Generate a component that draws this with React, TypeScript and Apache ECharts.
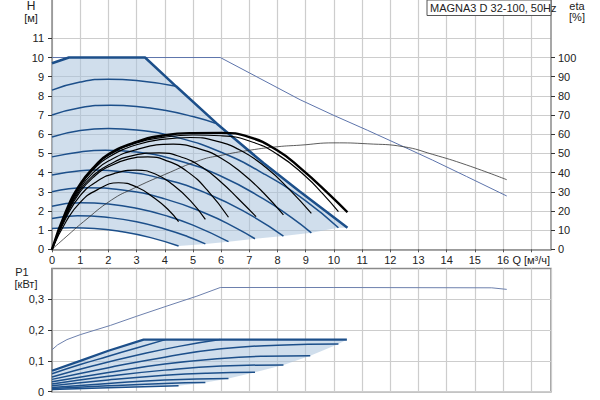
import React, { useEffect, useRef } from 'react';
import * as echarts from 'echarts';

type Pt = [number, number];

// ---------- Upper chart: head H [m] vs Q [m3/h] ----------
const Q_LABELS = [0, 1, 2, 3, 4, 5, 6, 7, 8, 9, 10, 11, 12, 13, 14, 15, 16, 17];
const H_LABELS = [0, 1, 2, 3, 4, 5, 6, 7, 8, 9, 10, 11];
const ETA_LABELS = [0, 10, 20, 30, 40, 50, 60, 70, 80, 90, 100];
const P_LABELS = [0, 0.1, 0.2, 0.3];

const H_MAX: Pt[] = [[0, 9.7], [0.6, 10], [3.3, 10], [4.4, 8.5], [5.85, 6.55], [6.32, 5.96], [7.5, 4.5], [8.8, 3.0], [9.7, 2.0], [10.48, 1.12]];
const H_C2: Pt[] = [[0, 8.3], [1, 8.72], [2, 8.87], [3, 8.8], [4.4, 8.5]];
const H_C3: Pt[] = [[0, 7.0], [1, 7.38], [2.07, 7.51], [3, 7.45], [4, 7.25], [5, 6.92], [5.85, 6.55]];
const H_C4: Pt[] = [[0, 5.86], [1, 6.2], [2, 6.3], [3, 6.22], [4.5, 5.81], [6, 5.06], [7.5, 3.95], [9, 2.53], [10.16, 1.12]];
const H_C5: Pt[] = [[0, 4.82], [1, 5.08], [1.9, 5.17], [3, 5.07], [4.5, 4.62], [6, 3.81], [7.5, 2.63], [8.5, 1.65], [9.2, 0.86]];
const H_C6: Pt[] = [[0, 3.87], [1, 4.09], [1.5, 4.13], [2.5, 4.05], [4, 3.65], [5.5, 2.91], [7, 1.82], [8.21, 0.69]];
const H_C7: Pt[] = [[0, 3.0], [1.2, 3.21], [2.5, 3.09], [4, 2.63], [5.5, 1.84], [6.5, 1.13], [7.2, 0.55]];
const H_C8: Pt[] = [[0, 2.25], [1, 2.43], [2, 2.36], [3, 2.14], [4, 1.77], [5, 1.26], [6.26, 0.4]];
const H_C9: Pt[] = [[0, 1.61], [0.9, 1.75], [2, 1.66], [3, 1.44], [4, 1.06], [4.8, 0.67], [5.44, 0.28]];
const H_C10: Pt[] = [[0, 1.09], [0.7, 1.13], [1.5, 1.09], [2.5, 0.91], [3.5, 0.61], [4.49, 0.17]];
const H_ENDS: Pt[] = [[10.16, 1.12], [9.2, 0.86], [8.21, 0.69], [7.2, 0.55], [6.26, 0.4], [5.44, 0.28]];
const H_TWIN: Pt[] = [[0, 10], [5.97, 10], [7, 9.2], [8.8, 7.8], [10, 6.98], [11.2, 6.2], [12.47, 5.35], [13.5, 4.65], [14.7, 3.8], [16.13, 2.78]];

// efficiency curves, eta [%]
const E_MAX: Pt[] = [[0, 0], [0.5, 20], [1, 34], [1.5, 43], [2, 49.5], [3, 56], [4, 59.5], [5, 60.6], [6, 60.7], [7, 58.5], [8, 51.5], [8.8, 42.5], [9.86, 28.3], [10.48, 19.3]];
const E_4: Pt[] = [[0, 0], [0.5, 19.5], [1, 33.5], [1.5, 42.5], [2, 49], [3, 55.5], [4, 58.5], [5, 59.6], [6, 59.2], [7, 56.5], [8, 49.5], [9, 38], [9.6, 29], [10.16, 19.6]];
const E_5: Pt[] = [[0, 0], [0.5, 19], [1, 33], [1.5, 42], [2, 48], [3, 54.5], [4, 57.5], [4.9, 58.3], [5.8, 56.5], [6.7, 51.5], [7.6, 42.5], [8.4, 31.5], [9.2, 18.7]];
const E_6: Pt[] = [[0, 0], [0.5, 18.5], [1, 32], [1.5, 40.5], [2, 46], [3, 52], [4.3, 54.8], [5.2, 52.5], [6, 47.5], [6.8, 39], [7.5, 29.5], [8.21, 17.9]];
const E_7: Pt[] = [[0, 0], [0.5, 18], [1, 31], [1.5, 39], [2, 44], [2.9, 49], [3.8, 50.3], [4.6, 48], [5.3, 43], [6, 35], [6.6, 26.5], [7.24, 17]];
const E_8: Pt[] = [[0, 0], [0.5, 17.5], [1, 30], [1.5, 38], [2, 43], [2.7, 47], [3.4, 48.2], [4.1, 46], [4.8, 40.5], [5.5, 31], [6.26, 16.7]];
const E_9: Pt[] = [[0, 0], [0.5, 16.5], [1, 28], [1.6, 35.5], [2.2, 39.5], [3.0, 41.3], [3.7, 39], [4.3, 33.5], [4.9, 25.5], [5.44, 15.6]];
const E_10: Pt[] = [[0, 0], [0.5, 14.5], [1, 24.5], [1.6, 31], [2.36, 34.7], [3.0, 32.5], [3.6, 27], [4.1, 21], [4.49, 14.4]];
const E_TWIN: Pt[] = [[0, 0], [0.5, 6.5], [1.12, 14.4], [2.11, 25.7], [2.9, 31.8], [4, 39], [5.26, 46.5], [6, 49], [7.03, 51.7], [8, 53.5], [8.8, 54.3], [10, 55.5], [11.2, 55], [12.47, 53.5], [13.5, 49.5], [14.7, 44], [16.13, 36.3]];

// ---------- Lower chart: power P1 [kW] ----------
const P_MAX: Pt[] = [[0, 0.068], [1, 0.1], [2, 0.133], [3.25, 0.169], [10.46, 0.169]];
const P_C2: Pt[] = [[0, 0.058], [1, 0.088], [2, 0.115], [3, 0.142], [4.02, 0.169]];
const P_C3: Pt[] = [[0, 0.048], [1.5, 0.085], [3, 0.118], [4.5, 0.147], [5.97, 0.169]];
const P_C4: Pt[] = [[0, 0.04], [2, 0.078], [4, 0.112], [6, 0.139], [8, 0.151], [10.16, 0.155]];
const P_C5: Pt[] = [[0, 0.032], [2, 0.062], [4, 0.09], [6, 0.108], [7.5, 0.115], [9.16, 0.117]];
const P_C6: Pt[] = [[0, 0.025], [2, 0.05], [4, 0.07], [6, 0.083], [8.21, 0.087]];
const P_C7: Pt[] = [[0, 0.019], [2, 0.038], [4, 0.053], [5.5, 0.06], [7.2, 0.063]];
const P_C8: Pt[] = [[0, 0.014], [2, 0.027], [4, 0.038], [6.26, 0.043]];
const P_C9: Pt[] = [[0, 0.01], [2, 0.019], [4, 0.027], [5.44, 0.03]];
const P_C10: Pt[] = [[0, 0.007], [2, 0.013], [4.49, 0.019]];
const P_ENDS: Pt[] = [[10.16, 0.155], [9.16, 0.117], [8.21, 0.087], [7.2, 0.063], [6.26, 0.043], [5.44, 0.03]];
const P_TWIN: Pt[] = [[0, 0.136], [0.2, 0.152], [0.53, 0.169], [1, 0.185], [2.07, 0.215], [3.01, 0.245], [4.08, 0.278], [5.14, 0.31], [5.97, 0.338], [10, 0.338], [15.6, 0.337], [16.13, 0.332]];

const H_POLY: Pt[] = [[0, 1.09], ...H_MAX, ...H_ENDS, ...[...H_C10].reverse()];
const P_POLY: Pt[] = [...P_MAX, ...P_ENDS, ...[...P_C10].reverse()];

const FONT = 'Liberation Sans, Arial, sans-serif';
const AX = '#8a8a8a';
const GRID = '#cdcdcd';
const BLUE = '#1c4f8a';
const FILL = 'rgba(170,195,220,0.55)';

function line(data: Pt[], color: string, width: number, xi: number, yi: number, smooth: boolean | number, z: number) {
  return {
    type: 'line', data, xAxisIndex: xi, yAxisIndex: yi, showSymbol: false, symbol: 'none',
    smooth, lineStyle: { color, width }, z, silent: true,
  };
}

function fill(poly: Pt[], xi: number, yi: number) {
  return {
    type: 'custom', xAxisIndex: xi, yAxisIndex: yi, data: [poly[0]], silent: true, z: 1,
    renderItem: (_p: any, api: any) => ({
      type: 'polygon',
      shape: { points: poly.map((p) => api.coord(p)) },
      style: { fill: FILL, stroke: 'none' },
    }),
  };
}

const lbl = { color: '#222', fontSize: 11, fontFamily: FONT };

const option: any = {
  animation: false,
  grid: [
    { left: 52, right: 49, top: 0, bottom: 150.7 },
    { left: 52, right: 49, top: 268.4, bottom: 8.3, show: true, borderColor: AX, borderWidth: 1.5, backgroundColor: 'transparent' },
  ],
  xAxis: [
    {
      gridIndex: 0, type: 'value', min: 0, max: 17.7, interval: 1,
      axisLine: { show: true, onZero: false, lineStyle: { color: AX, width: 1.5 } },
      axisTick: { show: true, length: 3, lineStyle: { color: '#555' }, customValues: Q_LABELS },
      axisLabel: {
        ...lbl, margin: 5, customValues: Q_LABELS,
        formatter: (v: number) => (v === 17 ? 'Q [м³/ч]' : Number.isInteger(v) && v <= 16 ? String(v) : ''),
      },
      splitLine: { show: true, lineStyle: { color: GRID, width: 1.2 } },
    },
    {
      gridIndex: 1, type: 'value', min: 0, max: 17.7, interval: 1,
      axisLine: { show: false }, axisTick: { show: false }, axisLabel: { show: false },
      splitLine: { show: true, lineStyle: { color: GRID, width: 1.2 } },
    },
  ],
  yAxis: [
    {
      gridIndex: 0, type: 'value', min: 0, max: 13, interval: 1, position: 'left',
      axisLine: { show: true, onZero: false, lineStyle: { color: AX, width: 1.5 } },
      axisTick: { show: true, length: 4, lineStyle: { color: '#333' }, customValues: H_LABELS },
      axisLabel: { ...lbl, margin: 8, customValues: H_LABELS, formatter: (v: number) => (v <= 11 ? String(v) : '') },
      splitLine: { show: true, lineStyle: { color: GRID, width: 1.2 } },
    },
    {
      gridIndex: 0, type: 'value', min: 0, max: 130, interval: 10, position: 'right',
      axisLine: { show: true, onZero: false, lineStyle: { color: AX, width: 1.5 } },
      axisTick: { show: true, length: 4, lineStyle: { color: '#333' }, customValues: ETA_LABELS },
      axisLabel: { ...lbl, margin: 7, customValues: ETA_LABELS, formatter: (v: number) => (v <= 100 ? String(v) : '') },
      splitLine: { show: false },
    },
    {
      gridIndex: 1, type: 'value', min: 0, max: 0.4, interval: 0.1, position: 'left',
      axisLine: { show: true, onZero: false, lineStyle: { color: AX, width: 1.5 } },
      axisTick: { show: true, length: 4, lineStyle: { color: '#333' }, customValues: P_LABELS },
      axisLabel: {
        ...lbl, margin: 8, customValues: P_LABELS,
        formatter: (v: number) => (v > 0.35 ? '' : v === 0 ? '0' : v.toFixed(1).replace('.', ',')),
      },
      splitLine: { show: true, lineStyle: { color: GRID, width: 1.2 } },
    },
  ],
  graphic: [
    { type: 'text', x: 31, y: 6, style: { text: 'H', font: `12px ${FONT}`, fill: '#222', align: 'center', verticalAlign: 'middle' } },
    { type: 'text', x: 31, y: 18, style: { text: '[м]', font: `11px ${FONT}`, fill: '#222', align: 'center', verticalAlign: 'middle' } },
    { type: 'text', x: 577, y: 6, style: { text: 'eta', font: `11px ${FONT}`, fill: '#222', align: 'center', verticalAlign: 'middle' } },
    { type: 'text', x: 577, y: 17, style: { text: '[%]', font: `11px ${FONT}`, fill: '#222', align: 'center', verticalAlign: 'middle' } },
    { type: 'text', x: 22, y: 272, style: { text: 'P1', font: `11px ${FONT}`, fill: '#222', align: 'center', verticalAlign: 'middle' } },
    { type: 'text', x: 26, y: 284, style: { text: '[кВт]', font: `11px ${FONT}`, fill: '#222', align: 'center', verticalAlign: 'middle' } },
    { type: 'rect', x: 427, y: 0, shape: { width: 124, height: 15.5 }, style: { fill: '#fff', stroke: '#555', lineWidth: 1 }, z: 100 },
    { type: 'text', x: 430, y: 8, z: 101, style: { text: 'MAGNA3 D 32-100, 50Hz', font: `11px ${FONT}`, fill: '#222', align: 'left', verticalAlign: 'middle' } },
  ],
  series: [
    fill(H_POLY, 0, 0),
    line(H_TWIN, '#5d74ab', 1, 0, 0, false, 3),
    line(H_C10, BLUE, 1.5, 0, 0, true, 3),
    line(H_C9, BLUE, 1.5, 0, 0, true, 3),
    line(H_C8, BLUE, 1.5, 0, 0, true, 3),
    line(H_C7, BLUE, 1.5, 0, 0, true, 3),
    line(H_C6, BLUE, 1.5, 0, 0, true, 3),
    line(H_C5, BLUE, 1.5, 0, 0, true, 3),
    line(H_C4, BLUE, 1.5, 0, 0, true, 3),
    line(H_C3, BLUE, 1.5, 0, 0, true, 3),
    line(H_C2, BLUE, 1.5, 0, 0, true, 3),
    line(H_MAX, BLUE, 2.5, 0, 0, false, 3),
    line(E_TWIN, '#333', 0.8, 0, 1, true, 4),
    line(E_10, '#000', 1.2, 0, 1, true, 4),
    line(E_9, '#000', 1.2, 0, 1, true, 4),
    line(E_8, '#000', 1.2, 0, 1, true, 4),
    line(E_7, '#000', 1.2, 0, 1, true, 4),
    line(E_6, '#000', 1.2, 0, 1, true, 4),
    line(E_5, '#000', 1.2, 0, 1, true, 4),
    line(E_4, '#000', 1.2, 0, 1, true, 4),
    line(E_MAX, '#000', 2.4, 0, 1, true, 4),
    fill(P_POLY, 1, 2),
    line(P_TWIN, '#6d80ad', 1, 1, 2, false, 3),
    line(P_C10, BLUE, 1.5, 1, 2, true, 3),
    line(P_C9, BLUE, 1.5, 1, 2, true, 3),
    line(P_C8, BLUE, 1.5, 1, 2, true, 3),
    line(P_C7, BLUE, 1.5, 1, 2, true, 3),
    line(P_C6, BLUE, 1.5, 1, 2, true, 3),
    line(P_C5, BLUE, 1.5, 1, 2, true, 3),
    line(P_C4, BLUE, 1.5, 1, 2, true, 3),
    line(P_C3, BLUE, 1.5, 1, 2, true, 3),
    line(P_C2, BLUE, 1.5, 1, 2, true, 3),
    line(P_MAX, BLUE, 2.2, 1, 2, false, 3),
  ],
};

export default function App() {
  const ref = useRef<HTMLDivElement>(null);
  useEffect(() => {
    const chart = echarts.init(ref.current!, null, { renderer: 'svg' });
    chart.setOption(option);
    return () => chart.dispose();
  }, []);
  return <div ref={ref} style={{ width: 600, height: 400, position: 'absolute', left: 0, top: 0 }} />;
}
